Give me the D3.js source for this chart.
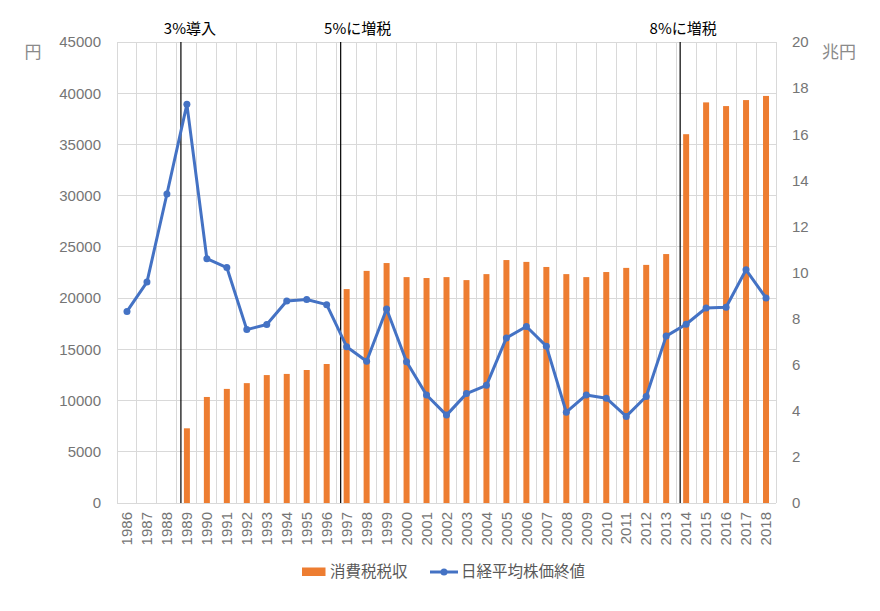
<!DOCTYPE html>
<html lang="ja">
<head>
    <meta charset="UTF-8">
    <title>消費税税収と日経平均株価終値</title>
    <style>
        body {
            margin: 0;
            background: #fff;
            font-family: 'Noto Sans CJK JP', 'Noto Sans', sans-serif;
        }
        .axis text {
            font-size: 15px;
            fill: #757575;
        }
        .grid line {
            stroke: #d9d9d9;
            stroke-width: 1;
            shape-rendering: crispEdges;
        }
        .unit {
            fill: #8a8a8a;
            font-size: 17px;
        }
        .event-label {
            font-size: 15px;
            fill: #000;
            text-anchor: middle;
        }
        .legend text {
            font-size: 15.5px;
            fill: #595959;
        }
    </style>
</head>
<body>
    <div id="chart"></div>

    <script src="https://d3js.org/d3.v7.min.js"></script>
    <script>
        // 年（カテゴリ）
        const years = ['1986', '1987', '1988', '1989', '1990', '1991', '1992', '1993', '1994', '1995', '1996',
            '1997', '1998', '1999', '2000', '2001', '2002', '2003', '2004', '2005', '2006', '2007',
            '2008', '2009', '2010', '2011', '2012', '2013', '2014', '2015', '2016', '2017', '2018'];

        // 消費税税収（兆円） 右軸
        const taxRevenue = [null, null, null, 3.24, 4.6, 4.95, 5.2, 5.55, 5.6, 5.77, 6.03,
            9.28, 10.07, 10.41, 9.8, 9.76, 9.8, 9.67, 9.93, 10.54, 10.46, 10.24,
            9.93, 9.8, 10.02, 10.2, 10.33, 10.8, 16.0, 17.38, 17.22, 17.48, 17.66];

        // 日経平均株価終値（円） 左軸
        const nikkei = [18701, 21564, 30159, 38916, 23849, 22984, 16925, 17417, 19723, 19868, 19361,
            15259, 13842, 18934, 13786, 10543, 8579, 10677, 11489, 16111, 17226, 15308,
            8860, 10546, 10229, 8455, 10395, 16291, 17451, 19034, 19114, 22765, 20015];

        // 目盛り
        const leftTicks = [0, 5000, 10000, 15000, 20000, 25000, 30000, 35000, 40000, 45000];
        const rightTicks = [0, 2, 4, 6, 8, 10, 12, 14, 16, 18, 20];

        // 税率変更のイベント
        const eventYears = ['1989', '1997', '2014'];
        const eventLabels = ['3%導入', '5%に増税', '8%に増税'];
        const eventLabelShift = [9, 17, 3];

        const seriesNames = ['消費税税収', '日経平均株価終値'];

        const width = 880, height = 611;
        const plot = { left: 117, right: 776, top: 42, bottom: 503 };
        const barColor = '#ed7d31', lineColor = '#4472c4';

        const svg = d3.select('#chart')
            .append('svg')
            .attr('width', width)
            .attr('height', height);

        const x = d3.scaleBand()
            .domain(years)
            .range([plot.left, plot.right])
            .padding(0);

        const yLeft = d3.scaleLinear()
            .domain([0, 45000])
            .range([plot.bottom, plot.top]);

        const yRight = d3.scaleLinear()
            .domain([0, 20])
            .range([plot.bottom, plot.top]);

        // グリッド線
        const grid = svg.append('g').attr('class', 'grid');
        grid.selectAll('.h')
            .data(leftTicks)
            .enter()
            .append('line')
            .attr('x1', plot.left)
            .attr('x2', plot.right)
            .attr('y1', d => yLeft(d))
            .attr('y2', d => yLeft(d));
        grid.selectAll('.v')
            .data(years.map(d => x(d)).concat([plot.right]))
            .enter()
            .append('line')
            .attr('x1', d => d)
            .attr('x2', d => d)
            .attr('y1', plot.top)
            .attr('y2', plot.bottom);

        // 軸
        const leftAxis = svg.append('g')
            .attr('class', 'axis')
            .attr('transform', `translate(${plot.left},0)`)
            .call(d3.axisLeft(yLeft).tickValues(leftTicks).tickSize(0).tickPadding(16).tickFormat(d => d));
        leftAxis.select('.domain').remove();

        const rightAxis = svg.append('g')
            .attr('class', 'axis')
            .attr('transform', `translate(${plot.right},0)`)
            .call(d3.axisRight(yRight).tickValues(rightTicks).tickSize(0).tickPadding(16));
        rightAxis.select('.domain').remove();

        const xAxis = svg.append('g')
            .attr('class', 'axis')
            .attr('transform', `translate(0,${plot.bottom})`)
            .call(d3.axisBottom(x).tickSize(0));
        xAxis.select('.domain').remove();
        xAxis.selectAll('text')
            .attr('transform', 'rotate(-90)')
            .attr('x', -9)
            .attr('y', 0)
            .attr('dy', '0.35em')
            .style('text-anchor', 'end');

        // 単位
        svg.append('text').attr('class', 'unit')
            .attr('x', 33).attr('y', 52).attr('dy', '0.35em')
            .attr('text-anchor', 'middle').text('円');
        svg.append('text').attr('class', 'unit')
            .attr('x', 822).attr('y', 52).attr('dy', '0.35em')
            .text('兆円');

        // 棒（消費税税収）
        const barW = x.step() * 0.3;
        svg.selectAll('.bar')
            .data(years.map((y, i) => ({ year: y, v: taxRevenue[i] })).filter(d => d.v !== null))
            .enter()
            .append('rect')
            .attr('class', 'bar')
            .attr('x', d => x(d.year) + (x.bandwidth() - barW) / 2)
            .attr('y', d => yRight(d.v))
            .attr('width', barW)
            .attr('height', d => plot.bottom - yRight(d.v))
            .attr('fill', barColor);

        // 税率変更の線とラベル
        eventYears.forEach((yr, i) => {
            const ex = x(yr) + 4;
            svg.append('line')
                .attr('x1', ex).attr('x2', ex)
                .attr('y1', plot.top).attr('y2', plot.bottom)
                .attr('stroke', '#000')
                .attr('stroke-width', 1.2);
            svg.append('text')
                .attr('class', 'event-label')
                .attr('x', ex + eventLabelShift[i])
                .attr('y', 29)
                .attr('dy', '0.35em')
                .text(eventLabels[i]);
        });

        // 折れ線（日経平均）
        const line = d3.line()
            .x((d, i) => x(years[i]) + x.bandwidth() / 2)
            .y(d => yLeft(d));

        svg.append('path')
            .datum(nikkei)
            .attr('fill', 'none')
            .attr('stroke', lineColor)
            .attr('stroke-width', 3)
            .attr('stroke-linejoin', 'round')
            .attr('stroke-linecap', 'round')
            .attr('d', line);

        svg.selectAll('.dot')
            .data(nikkei)
            .enter()
            .append('circle')
            .attr('class', 'dot')
            .attr('cx', (d, i) => x(years[i]) + x.bandwidth() / 2)
            .attr('cy', d => yLeft(d))
            .attr('r', 3.5)
            .attr('fill', lineColor);

        // 凡例
        const legend = svg.append('g').attr('class', 'legend');
        legend.append('rect')
            .attr('x', 302).attr('y', 567.5)
            .attr('width', 23.5).attr('height', 8.5)
            .attr('fill', barColor);
        legend.append('text')
            .attr('x', 330).attr('y', 572).attr('dy', '0.35em')
            .text(seriesNames[0]);
        legend.append('line')
            .attr('x1', 430).attr('x2', 458)
            .attr('y1', 572).attr('y2', 572)
            .attr('stroke', lineColor).attr('stroke-width', 3);
        legend.append('circle')
            .attr('cx', 444).attr('cy', 572).attr('r', 3.5)
            .attr('fill', lineColor);
        legend.append('text')
            .attr('x', 461).attr('y', 572).attr('dy', '0.35em')
            .text(seriesNames[1]);
    </script>
</body>
</html>
